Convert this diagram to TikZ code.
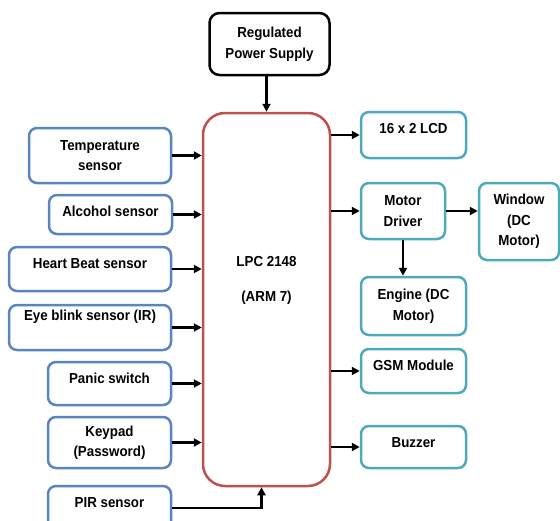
\documentclass[tikz,border=0pt]{standalone}
\usepackage{fontspec}
\setmainfont{Liberation Sans}[FakeStretch=0.92]
\usetikzlibrary{arrows.meta}
\definecolor{sensorblue}{HTML}{5A86BF}
\definecolor{outteal}{HTML}{4FA9BE}
\definecolor{mcured}{HTML}{C0504D}

\begin{document}
\begin{tikzpicture}[
  x=1pt, y=-1pt,
  font=\fontsize{14.5}{20.5}\selectfont\bfseries,
  box/.style={draw, line width=2.5pt, rounded corners=8pt, align=center, inner sep=0pt, fill=white},
  inbox/.style={box, draw=sensorblue},
  outbox/.style={box, draw=outteal},
  lift/.style={text height=10pt, text depth=#1},
  wire/.style={->, line width=2.2pt},
  >={Triangle[length=8pt, width=8pt]}
]
\useasboundingbox (0,0) rectangle (560,520);
% controller and supply
\node[box, rounded corners=10pt, minimum width=120pt, minimum height=62pt] (power) at (269.5,44) {Regulated\\Power Supply};
\node[box, draw=mcured, rounded corners=22pt, minimum width=127pt, minimum height=373pt,
  label={[name=mcutext, align=center, yshift=19pt]center:{LPC 2148\\[14.5pt](ARM 7)}}] (mcu) at (266.5,299.5) {};
% inputs
\node[inbox, minimum width=142pt, minimum height=55pt] (temp) at (100,155.5) {Temperature\\sensor};
\node[inbox, lift=6pt, minimum width=123pt, minimum height=39pt] (alcohol) at (110.5,214.5) {Alcohol sensor};
\node[inbox, lift=12pt, minimum width=162pt, minimum height=44pt] (heart) at (90,269) {Heart Beat sensor};
\node[inbox, lift=24pt, minimum width=162pt, minimum height=45pt] (eye) at (90,327.5) {Eye blink sensor (IR)};
\node[inbox, lift=10pt, minimum width=123pt, minimum height=43pt] (panic) at (109.5,383.5) {Panic switch};
\node[inbox, minimum width=123pt, minimum height=51pt] (keypad) at (109.5,442.5) {Keypad\\(Password)};
\node[inbox, lift=12pt, minimum width=123pt, minimum height=44pt] (pir) at (109.5,508) {PIR sensor};
% outputs
\node[outbox, lift=14pt, minimum width=105pt, minimum height=46pt] (lcd) at (413.5,135) {16 x 2 LCD};
\node[outbox, minimum width=84pt, minimum height=56pt] (driver) at (403,211) {Motor\\Driver};
\node[outbox, minimum width=80pt, minimum height=77pt] (window) at (519,221.5) {Window\\(DC\\Motor)};
\node[outbox, minimum width=105pt, minimum height=58pt] (engine) at (413.5,306) {Engine (DC\\Motor)};
\node[outbox, lift=12pt, minimum width=105pt, minimum height=44pt] (gsm) at (413.5,371) {GSM Module};
\node[outbox, lift=10pt, minimum width=105pt, minimum height=42pt] (buzzer) at (413.5,447) {Buzzer};
% connectors
\draw[wire] (mcu.north |- power.south) -- (mcu.north);
\foreach \s in {temp, alcohol, heart, eye, panic, keypad}
  \draw[wire] (\s) -- (\s -| mcu.west);
\foreach \d in {lcd, driver, gsm, buzzer}
  \draw[wire] (\d -| mcu.east) -- (\d);
\draw[wire] (driver) -- (driver -| window.west);
\draw[wire] (driver) -- (driver |- engine.north);
\draw[wire] (pir) -| ([xshift=-5pt]mcu.south);
\end{tikzpicture}
\end{document}
